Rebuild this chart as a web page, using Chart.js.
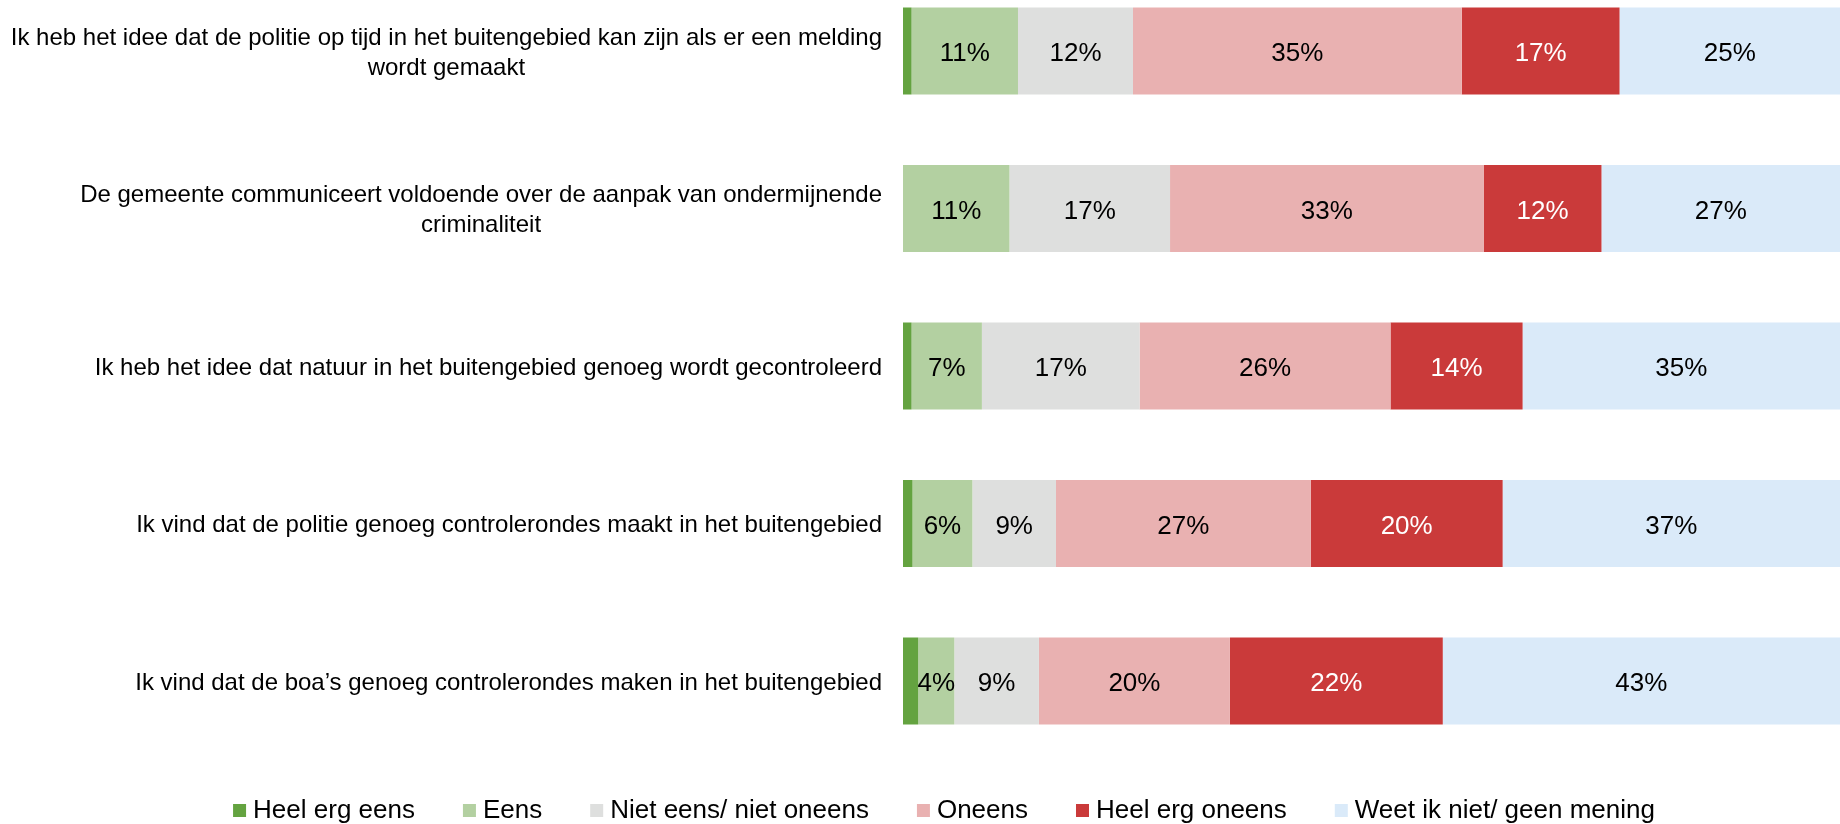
<!DOCTYPE html>
<html>
<head>
<meta charset="utf-8">
<script src="https://cdn.jsdelivr.net/npm/chart.js@4.4.1/dist/chart.umd.min.js"></script>
<style>
  html, body { margin: 0; padding: 0; background: #ffffff; overflow: hidden; }
  canvas { display: block; }
</style>
</head>
<body>
<canvas id="c" width="1840" height="824"></canvas>
<script>
const categories = [
  ["Ik heb het idee dat de politie op tijd in het buitengebied kan zijn als er een melding", "wordt gemaakt"],
  ["De gemeente communiceert voldoende over de aanpak van ondermijnende", "criminaliteit"],
  ["Ik heb het idee dat natuur in het buitengebied genoeg wordt gecontroleerd"],
  ["Ik vind dat de politie genoeg controlerondes maakt in het buitengebied"],
  ["Ik vind dat de boa\u2019s genoeg controlerondes maken in het buitengebied"]
];
const seriesNames = ["Heel erg eens", "Eens", "Niet eens/ niet oneens", "Oneens", "Heel erg oneens", "Weet ik niet/ geen mening"];
const heelErgEens   = [0.9, 0, 0.9, 1.0, 1.6];
const eens          = [11.2, 11.2, 7.4, 6.3, 3.8];
const nietEens      = [12.1, 16.9, 16.6, 8.8, 8.9];
const oneens        = [34.6, 33.0, 26.4, 26.8, 20.1];
const heelErgOneens = [16.6, 12.4, 13.9, 20.2, 22.4];
const weetNiet      = [25, 27, 35, 37, 43];
const seriesColors = ["#64A340", "#B3D0A1", "#DEDFDE", "#E9B1B1", "#CA3A3A", "#DAEAF9"];
const labelColors  = [null, "#000000", "#000000", "#000000", "#FFFFFF", "#000000"];

const FONT = "'Liberation Sans', Arial, sans-serif";
const FS_VALUE = 26;
const FS_AXIS = 24;
const FS_LEGEND = 26;

const seriesValues = [heelErgEens, eens, nietEens, oneens, heelErgOneens, weetNiet];

const datasets = seriesValues.map((vals, i) => ({
  label: seriesNames[i],
  data: vals,
  backgroundColor: seriesColors[i],
  borderWidth: 0,
  categoryPercentage: 1,
  barPercentage: 0.552,
  clip: false
}));

const valueLabels = {
  id: 'valueLabels',
  afterDatasetsDraw(chart) {
    const ctx = chart.ctx;
    const area = chart.chartArea;
    ctx.save();
    ctx.font = FS_VALUE + "px " + FONT;
    ctx.textAlign = 'center';
    ctx.textBaseline = 'middle';
    chart.data.datasets.forEach((ds, di) => {
      if (!labelColors[di]) return;
      const meta = chart.getDatasetMeta(di);
      meta.data.forEach((el, i) => {
        const v = ds.data[i];
        if (!v) return;
        const props = el.getProps(['x', 'y', 'base'], true);
        const x0 = Math.max(Math.min(props.x, props.base), area.left);
        const x1 = Math.min(Math.max(props.x, props.base), area.right);
        const cx = (x0 + x1) / 2;
        ctx.fillStyle = labelColors[di];
        ctx.fillText(Math.round(v) + '%', cx, props.y + 3);
      });
    });
    ctx.restore();
  }
};

const categoryLabels = {
  id: 'categoryLabels',
  afterDraw(chart) {
    const ctx = chart.ctx;
    const yScale = chart.scales.y;
    const right = chart.chartArea.left - 21;
    const lh = 30;
    ctx.save();
    ctx.font = FS_AXIS + "px " + FONT;
    ctx.fillStyle = '#000000';
    ctx.textAlign = 'center';
    ctx.textBaseline = 'middle';
    categories.forEach((lines, i) => {
      const y = yScale.getPixelForTick(i);
      const maxW = Math.max(...lines.map(l => ctx.measureText(l).width));
      const cx = right - maxW / 2;
      const y0 = y - (lines.length - 1) * lh / 2;
      lines.forEach((l, k) => ctx.fillText(l, cx, y0 + k * lh + 2));
    });
    ctx.restore();
  }
};

new Chart(document.getElementById('c'), {
  type: 'bar',
  data: { labels: categories.map(c => c.join(' ')), datasets },
  options: {
    indexAxis: 'y',
    responsive: false,
    animation: false,
    layout: { padding: { top: 51, left: 54, right: 0, bottom: 0 } },
    scales: {
      x: {
        stacked: true, min: 0, max: 98.6,
        display: true,
        ticks: { display: false },
        grid: { display: false },
        border: { display: false },
        afterFit(s) { s.height = 62.5; }
      },
      y: {
        stacked: true,
        offset: false,
        display: true,
        ticks: { display: false },
        grid: { display: false },
        border: { display: false },
        afterFit(s) { s.width = 903 - 54; }
      }
    },
    plugins: {
      tooltip: { enabled: false },
      legend: {
        position: 'bottom',
        maxHeight: 80.5,
        labels: {
          usePointStyle: true,
          pointStyle: 'rect',
          boxWidth: 1,
          boxHeight: 13,
          padding: 54,
          color: '#000000',
          font: { family: FONT, size: FS_LEGEND }
        }
      }
    }
  },
  plugins: [valueLabels, categoryLabels]
});
</script>
</body>
</html>
